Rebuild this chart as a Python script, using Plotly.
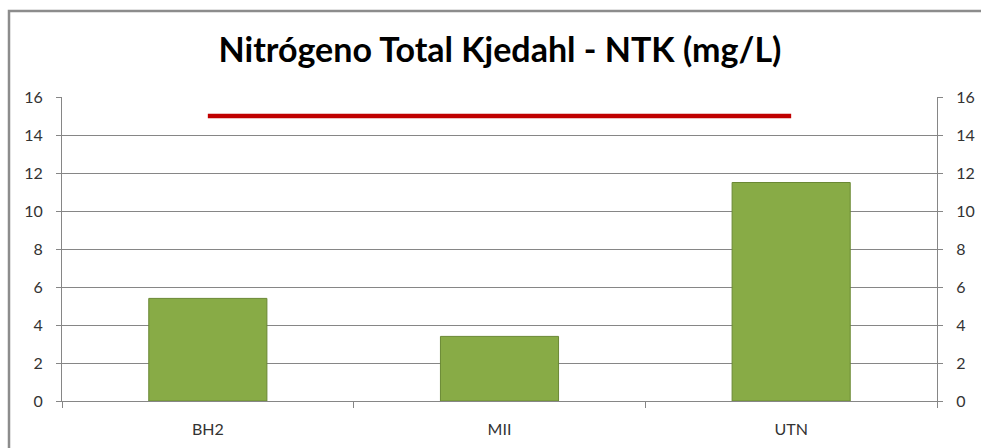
import plotly.graph_objects as go

# ---- data ----
categories = ["BH2", "MII", "UTN"]
ntk_values = [5.4, 3.4, 11.5]
limit_values = [15, 15, 15]
y_ticks = [0, 2, 4, 6, 8, 10, 12, 14, 16]
title_text = "Nitrógeno Total Kjedahl - NTK (mg/L)"

W, H = 981, 448
L, R, T, B = 62, 44, 97, 47
pw, ph = W - L - R, H - T - B

def px_to_paper_x(px):
    return (px - L) / pw

def px_to_paper_y(py):
    return (H - B - py) / ph

grid = "#868686"
tickfont = dict(family="Lato, Open Sans, sans-serif", size=16, color="#333333")

fig = go.Figure()
fig.add_trace(go.Bar(
    x=categories, y=ntk_values, width=0.405,
    marker=dict(color="#88ab46", line=dict(color="#6a8834", width=1)),
    showlegend=False, hoverinfo="x+y",
))
fig.add_trace(go.Scatter(
    x=categories, y=limit_values, mode="lines",
    line=dict(color="#c00000", width=4.5),
    showlegend=False,
))
# invisible trace on secondary axis to display right ticks
fig.add_trace(go.Scatter(
    x=categories, y=ntk_values, yaxis="y2", mode="markers",
    marker=dict(opacity=0), showlegend=False, hoverinfo="skip",
))

fig.update_layout(
    width=W, height=H,
    margin=dict(l=L, r=R, t=T, b=B, autoexpand=False),
    paper_bgcolor="white", plot_bgcolor="white",
    title=dict(text=title_text, x=500 / W, xanchor="center",
               y=1 - 50 / H, yanchor="middle", automargin=False,
               font=dict(family="Lato, Open Sans, sans-serif", size=34, color="black", weight="bold")),
    xaxis=dict(type="category", showgrid=False, showline=True, linecolor=grid, linewidth=1,
               ticks="outside", tickson="boundaries", ticklen=6, tickcolor=grid,
               tickfont=tickfont, ticklabelstandoff=14, automargin=False),
    yaxis=dict(range=[0, 16], tickvals=y_ticks, showgrid=True, gridcolor=grid, gridwidth=1,
               showline=True, linecolor=grid, linewidth=1, zeroline=False,
               ticks="outside", ticklen=5, tickcolor=grid, tickfont=tickfont,
               ticklabelstandoff=10, automargin=False),
    yaxis2=dict(range=[0, 16], tickvals=y_ticks, overlaying="y", side="right", showgrid=False,
                showline=True, linecolor=grid, linewidth=1, zeroline=False,
                ticks="outside", ticklen=5, tickcolor=grid, tickfont=tickfont,
                ticklabelstandoff=10, automargin=False),
    shapes=[dict(type="rect", xref="paper", yref="paper",
                 x0=px_to_paper_x(9), x1=px_to_paper_x(W + 20),
                 y0=px_to_paper_y(H + 20), y1=px_to_paper_y(11),
                 line=dict(color="#8c8c8c", width=2.5), fillcolor="rgba(0,0,0,0)", layer="below")],
)

fig.write_html("out.html", config={"displayModeBar": False},
               post_script="document.body.style.margin='0';document.body.style.overflow='hidden';")
